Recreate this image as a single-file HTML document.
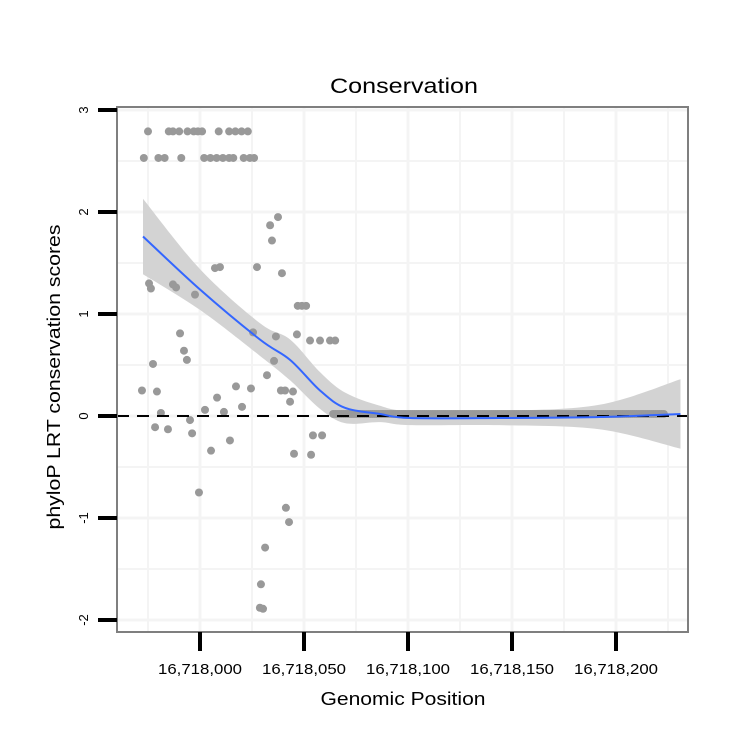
<!DOCTYPE html>
<html><head><meta charset="utf-8"><style>
body{margin:0;background:#fff}
svg text{font-family:"Liberation Sans",sans-serif}
</style></head><body>
<svg id="chart" width="750" height="750">
<text x="404" y="93" font-size="21" text-anchor="middle" textLength="148" lengthAdjust="spacingAndGlyphs">Conservation</text>
<text x="403" y="705" font-size="18" text-anchor="middle" textLength="165" lengthAdjust="spacingAndGlyphs">Genomic Position</text>
<text transform="translate(60,377) rotate(-90)" font-size="18" text-anchor="middle" textLength="305" lengthAdjust="spacingAndGlyphs">phyloP LRT conservation scores</text>
<g id="grid"></g><g id="band"></g><g id="pts"></g><g id="fit"></g><g id="axes"></g>
</svg>
<script>
const xTicks=[0,50,100,150,200];
const xTickLabels=["16,718,000","16,718,050","16,718,100","16,718,150","16,718,200"];
const yTicks=[3,2,1,0,-1,-2];
const yTickLabels=["3","2","1","0","-1","-2"];
// positions are offsets from 16,718,000
const pointPos=[-25,-15,-13,-10,-6,-3,-1,1,9,14,17,20,23,
-27,-20,-17,-9,2,5,8,11,14,16,21,24,26,
37.5,33.7,34.6,9.6,7.2,27.4,39.4,-24.5,-23.6,-13,-11.5,-2.4,47,49,51,-9.6,25.5,36.5,46.6,52.9,57.7,62.5,65,-7.7,-6.3,-22.6,35.6,
-27.9,-20.7,32.2,17.3,24.5,8.2,38.9,40.9,44.7,43.3,20.2,2.4,11.5,-18.8,-4.8,-21.6,-15.4,-3.8,14.4,54.3,58.7,5.3,45.2,53.4,-0.5,41.3,42.8,31.3,29.3,28.8,30.3];
const pointVal=[2.79,2.79,2.79,2.79,2.79,2.79,2.79,2.79,2.79,2.79,2.79,2.79,2.79,
2.53,2.53,2.53,2.53,2.53,2.53,2.53,2.53,2.53,2.53,2.53,2.53,2.53,
1.95,1.87,1.72,1.46,1.45,1.46,1.40,1.30,1.25,1.29,1.26,1.19,1.08,1.08,1.08,0.81,0.82,0.78,0.80,0.74,0.74,0.74,0.74,0.64,0.55,0.51,0.54,
0.25,0.24,0.40,0.29,0.27,0.18,0.25,0.25,0.24,0.14,0.09,0.06,0.04,0.03,-0.04,-0.11,-0.13,-0.17,-0.24,-0.19,-0.19,-0.34,-0.37,-0.38,-0.75,-0.90,-1.04,-1.29,-1.65,-1.88,-1.89];
const zeroStart=64, zeroEnd=223, zeroVal=0.02;
const fitPos=[-27.4,0,28.8,43.3,57.7,69.7,86.5,101,144,192,231];
const fitVal=[1.76,1.24,0.75,0.55,0.25,0.08,0.02,-0.02,-0.02,-0.01,0.02];
const fitSe=[0.37,0.2,0.16,0.2,0.18,0.15,0.08,0.07,0.07,0.12,0.34];
const L=117,R=688,T=107,B=632;
const X=v=>200+v*2.08, Y=v=>416-v*102;
const NS="http://www.w3.org/2000/svg";
function mk(tag,at,parent){const e=document.createElementNS(NS,tag);for(const k in at)e.setAttribute(k,at[k]);document.getElementById(parent).appendChild(e);return e;}
mk('rect',{x:L,y:T,width:R-L,height:B-T,fill:'#fff'},'grid');
xTicks.forEach(t=>{[t,t-25].forEach((v,j)=>{const l=mk('line',{x1:X(v),x2:X(v),y1:T,y2:B,stroke:'#f4f4f4','stroke-width':j?2:3},'grid');

});});
mk('line',{x1:X(225),x2:X(225),y1:T,y2:B,stroke:'#f4f4f4','stroke-width':2},'grid');
yTicks.forEach(t=>{[t,t-0.5].forEach((v,j)=>{if(Y(v)>B)return;const l=mk('line',{x1:L,x2:R,y1:Y(v),y2:Y(v),stroke:'#f4f4f4','stroke-width':j?2:3},'grid');

});});
function smooth(pts){let d='M'+pts[0];
for(let i=0;i<pts.length-1;i++){const p0=pts[i-1]||pts[i],p1=pts[i],p2=pts[i+1],p3=pts[i+2]||p2;
d+=` C${p1[0]+(p2[0]-p0[0])/6},${p1[1]+(p2[1]-p0[1])/6} ${p2[0]-(p3[0]-p1[0])/6},${p2[1]-(p3[1]-p1[1])/6} ${p2[0]},${p2[1]}`;}
return d;}
let up=fitPos.map((p,i)=>[X(p),Y(fitVal[i]+fitSe[i])]);
let lo=fitPos.map((p,i)=>[X(p),Y(fitVal[i]-fitSe[i])]).reverse();
const band=mk('path',{d:smooth(up)+' L'+lo[0]+' '+smooth(lo).slice(1)+' Z',fill:'#d3d3d3'},'band');


pointPos.forEach((p,i)=>{const c=mk('circle',{cx:X(p),cy:Y(pointVal[i]),r:4,fill:'#999'},'pts');

});
for(let p=zeroStart;p<=zeroEnd;p++){const c=mk('circle',{cx:X(p),cy:Y(zeroVal),r:4,fill:'#999'},'pts');

}
const zl=mk('line',{x1:L,x2:R,y1:Y(0),y2:Y(0),stroke:'#000','stroke-width':2,'stroke-dasharray':'12,8'},'fit');


const pts=fitPos.map((p,i)=>[X(p),Y(fitVal[i])]);
const fl=mk('path',{d:smooth(pts),fill:'none',stroke:'#3366ff','stroke-width':2},'fit');


const br=mk('rect',{x:L,y:T,width:R-L,height:B-T,fill:'none',stroke:'#7f7f7f','stroke-width':2},'axes');


xTicks.forEach((t,i)=>{const l=mk('line',{x1:X(t),x2:X(t),y1:B,y2:B+19,stroke:'#000','stroke-width':4},'axes');


const tx=mk('text',{x:X(t),y:B+42,'font-size':15,'text-anchor':'middle',textLength:84,lengthAdjust:'spacingAndGlyphs'},'axes');tx.textContent=xTickLabels[i];

});
yTicks.forEach((t,i)=>{const l=mk('line',{x1:L-19,x2:L,y1:Y(t),y2:Y(t),stroke:'#000','stroke-width':4},'axes');


const tx=mk('text',{transform:`translate(88,${Y(t)}) rotate(-90)`,'font-size':13,'text-anchor':'middle'},'axes');tx.textContent=yTickLabels[i];

});
</script>
</body></html>
